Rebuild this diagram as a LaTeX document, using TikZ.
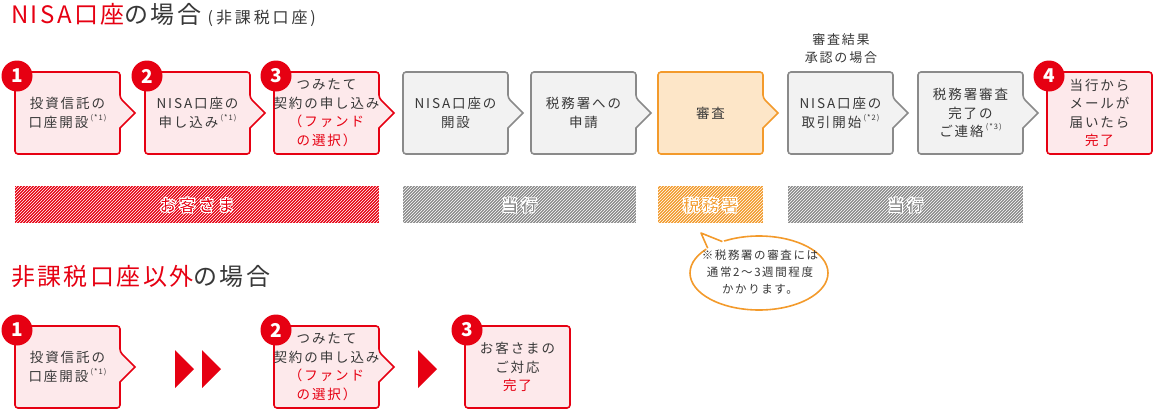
\documentclass[tikz,border=0pt]{standalone}
\usepackage{fontspec}
\setmainfont{Noto Sans CJK JP}[LetterSpace=14]
\newfontfamily\titlefont{Noto Sans CJK JP}[LetterSpace=10]
\newfontfamily\subtitlefont{Noto Sans CJK JP}[LetterSpace=18]
\usetikzlibrary{patterns}

\definecolor{nisared}{HTML}{E60012}
\definecolor{pinkfill}{HTML}{FDE9EB}
\definecolor{graybd}{HTML}{8A8A8A}
\definecolor{grayfill}{HTML}{F2F2F2}
\definecolor{orangebd}{HTML}{F39A2B}
\definecolor{orangefill}{HTML}{FDE6C8}
\definecolor{txt}{HTML}{383838}

% box with notch on the right side
\newcommand{\flowstep}[5]{%
  \draw[#4, rounded corners=3pt] (#2,#3) -- ++(105,0) -- ++(0,26) [sharp corners] -- ++(15,15) -- ++(-15,15) [rounded corners=3pt] -- ++(0,26) -- ++(-105,0) -- cycle;
  \node[boxtext] (#1) at (#2+52.5,#3+41) {#5};}
% box without notch
\newcommand{\finalstep}[5]{%
  \draw[#4, rounded corners=3pt] (#2,#3) rectangle ++(105,82);
  \node[boxtext] (#1) at (#2+52.5,#3+41) {#5};}
\newcommand{\fnote}[1]{\,\raisebox{0.5em}{\fontsize{7.5}{7.5}\selectfont(*#1)}}
% white outlined lettering
\newcommand{\haloed}[1]{\special{pdf:literal direct 1 1 1 RG 1.1 w 2 Tr}#1\special{pdf:literal direct 0 Tr}}

\begin{document}
\begin{tikzpicture}[x=1pt, y=-1pt,
  boxtext/.style={align=center, text=txt, inner sep=0pt, font=\fontsize{13.5}{18.5}\selectfont},
  redstep/.style={draw=nisared, fill=pinkfill, line width=1.6pt},
  graystep/.style={draw=graybd, fill=grayfill, line width=1.6pt},
  orangestep/.style={draw=orangebd, fill=orangefill, line width=1.6pt},
  numdot/.style={circle, fill=nisared, text=white, minimum size=31pt, inner sep=0pt, font=\bfseries\fontsize{19}{19}\selectfont},
  hatchbar/.style={preaction={fill=#1}, pattern=north east lines, pattern color=white},
  barlabel/.style={text=#1, font=\bfseries\fontsize{17}{17}\selectfont}]
\useasboundingbox (0,0) rectangle (1160,410);

% Titles
\node[anchor=west, inner sep=0pt] (title1) at (11,15)
  {\titlefont\fontsize{24}{24}\selectfont\color{nisared}NISA口座\color{txt}の場合\subtitlefont\fontsize{16}{16}\selectfont\ (非課税口座)};
\node[anchor=west, inner sep=0pt] (title2) at (11,276)
  {\titlefont\fontsize{24}{24}\selectfont\color{nisared}非課税口座以外\color{txt}の場合};

% NISA flow
\flowstep{s1}{15}{72}{redstep}{投資信託の\\口座開設\fnote{1}}
\flowstep{s2}{145}{72}{redstep}{NISA口座の\\申し込み\fnote{1}}
\flowstep{s3}{274}{72}{redstep}{つみたて\\契約の申し込み\\\textcolor{nisared}{（ファンド}\\\textcolor{nisared}{の選択）}}
\flowstep{s4}{403}{72}{graystep}{NISA口座の\\開設}
\flowstep{s5}{531}{72}{graystep}{税務署への\\申請}
\flowstep{s6}{658}{72}{orangestep}{審査}
\flowstep{s7}{788}{72}{graystep}{NISA口座の\\取引開始\fnote{2}}
\flowstep{s8}{918}{72}{graystep}{税務署審査\\完了の\\ご連絡\fnote{3}}
\finalstep{s9}{1047}{72}{redstep}{当行から\\メールが\\届いたら\\\textcolor{nisared}{完了}}
\node[boxtext, font=\fontsize{13}{18}\selectfont] (approve) at (841,49) {審査結果\\承認の場合};

\foreach \n/\x in {1/17, 2/147, 3/276, 4/1049}
  \node[numdot] (num\n) at (\x,76) {\n};

% Bars
\path[hatchbar=nisared] (15,186) rectangle (379,223);
\path[hatchbar=graybd] (403,186) rectangle (636,223);
\path[hatchbar=orangebd] (658,186) rectangle (763,223);
\path[hatchbar=graybd] (788,186) rectangle (1023,223);
\node[barlabel=nisared] (who1) at (197,205) {\haloed{お客さま}};
\node[barlabel=graybd] (who2) at (519.5,205) {\haloed{当行}};
\node[barlabel=orangebd] (who3) at (710.5,205) {\haloed{税務署}};
\node[barlabel=graybd] (who4) at (905.5,205) {\haloed{当行}};

% Balloon
\draw[orangebd, line width=1.6pt, fill=white] (759,273) ellipse [x radius=69, y radius=37];
\coordinate (tailtip) at (701,233);
\coordinate (tailA) at (722.4,241.6);
\coordinate (tailB) at (707.7,248.2);
\fill[white] (tailtip) -- (723.4,240.2) -- (727,246) -- (712,252) -- (706.5,249.6) -- cycle;
\draw[orangebd, line width=1.6pt, line join=round] (tailB) -- (tailtip) -- (tailA);
\node[align=center, text=txt, font=\fontsize{11.5}{17}\selectfont] (note) at (760,272)
  {※税務署の審査には\\通常2～3週間程度\\かかります。};

% Other accounts
\flowstep{t1}{15}{326}{redstep}{投資信託の\\口座開設\fnote{1}}
\flowstep{t2}{274}{326}{redstep}{つみたて\\契約の申し込み\\\textcolor{nisared}{（ファンド}\\\textcolor{nisared}{の選択）}}
\finalstep{t3}{465}{326}{redstep}{お客さまの\\ご対応\\\textcolor{nisared}{完了}}
\foreach \n/\x in {1/17, 2/276, 3/467}
  \node[numdot] (dot\n) at (\x,330) {\n};

\foreach \x in {175, 202, 418}
  \fill[nisared] (\x,350) -- (\x+19,369) -- (\x,388) -- cycle;
\end{tikzpicture}
\end{document}
